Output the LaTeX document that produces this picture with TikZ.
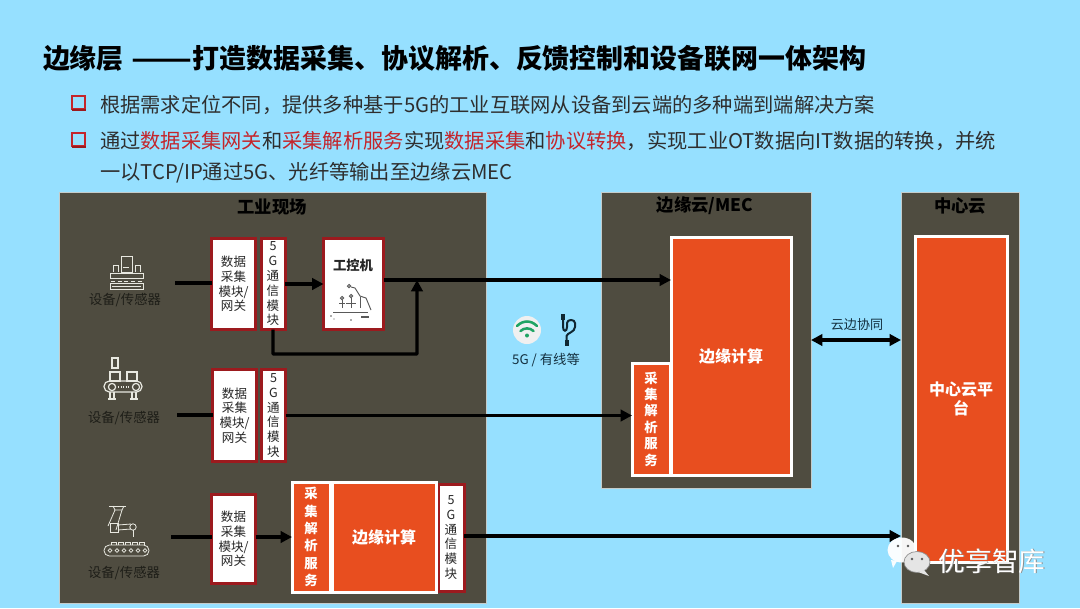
\documentclass[tikz,border=0pt]{standalone}
\usepackage{fontspec}
\usepackage{graphicx}
\setmainfont{Noto Sans CJK SC}
\usetikzlibrary{arrows.meta,calc}
\definecolor{skybg}{HTML}{96E0FF}
\definecolor{panelc}{HTML}{4F4C40}
\definecolor{panelb}{HTML}{C4CCCB}
\definecolor{redbd}{HTML}{9C1A1E}
\definecolor{orangec}{HTML}{E84E1F}
\definecolor{redtx}{HTML}{C4252B}
\definecolor{navytx}{HTML}{14303F}
\definecolor{devtx}{HTML}{1E1E18}
\definecolor{iconln}{HTML}{E8E8E0}
\definecolor{wifig}{HTML}{1FA463}
\newcommand{\red}[1]{\textcolor{redtx}{#1}}
\newcommand{\szz}[2]{\fontsize{#1}{#2}\selectfont}
\tikzset{
  x=0.75pt,y=-0.75pt,
  wh/.style 2 args={minimum width=#1*0.75pt,minimum height=#2*0.75pt},
  base/.style={inner sep=0pt,outer sep=0pt,align=center},
  panelbox/.style={base,draw=panelb,line width=0.75pt,fill=panelc},
  ptitle/.style={base,font=\szz{13}{15}\bfseries,text=black},
  modbox/.style={base,draw=redbd,line width=2.25pt,fill=white,text=black!85,font=\szz{9.4}{11.1}},
  orbox/.style={base,draw=white,line width=2.25pt,fill=orangec,text=white,font=\szz{12}{14.3}\bfseries},
  vbox/.style={base,draw=white,line width=2.25pt,fill=orangec,text=white,font=\szz{10}{13}\bfseries},
  devlabel/.style={base,font=\szz{10}{12},text=devtx},
  arr/.style={line width=2.5pt,draw=black,-{Triangle[length=8.5pt,width=8.5pt]}},
  plain/.style={line width=2.5pt,draw=black},
  dbl/.style={line width=2.5pt,draw=black,{Triangle[length=8.5pt,width=8.5pt]}-{Triangle[length=8.5pt,width=8.5pt]}},
  icon/.style={draw=iconln,line width=0.7pt},
  bodyt/.style={base,anchor=west,font=\szz{15.2}{18},text=black!82},
}
\begin{document}
\begin{tikzpicture}
\useasboundingbox (0,0) rectangle (1080,608);
\fill[skybg] (0,0) rectangle (1080,608);

% title and bullets
\node[base,anchor=west,font=\szz{20.2}{24}\bfseries,text=black] (title) at (43,58) {边缘层\hspace{6pt}\scalebox{1.32}[1]{——}打造数据采集、协议解析、反馈控制和设备联网一体架构};
\foreach \yy in {104,141}{
  \draw[redtx,line width=1.3pt] (72,\yy-8) rectangle (85,\yy+5);
  \draw[redbd,line width=1.8pt] (71.5,\yy+6) -- (86,\yy+6);
}
\node[bodyt] (l1) at (100,105) {根据需求定位不同，提供多种基于5G的工业互联网从设备到云端的多种端到端解决方案};
\node[bodyt] (l2) at (100,141) {通过\red{数据采集网关}和\red{采集解析服务}实现\red{数据采集}和\red{协议转换}，实现工业OT数据向IT数据的转换，并统};
\node[bodyt] (l3) at (100,173) {一以TCP/IP通过5G、光纤等输出至边缘云MEC};

% panels
\node[panelbox,wh={427}{411}] (pF) at (272.5,397.5) {};
\node[panelbox,wh={210}{296}] (pM) at (706,340) {};
\node[panelbox,wh={118}{411}] (pC) at (960,397.5) {};
\node[ptitle] (tF) at (272,207) {工业现场};
\node[ptitle] (tM) at (705,206) {边缘云/MEC};
\node[ptitle] (tC) at (960,206) {中心云};

% row 1
\node[modbox,wh={44}{91}] (a1) at (233.5,284) {数据\\采集\\模块/\\网关};
\node[modbox,wh={24}{91}] (g1) at (273,284) {5\\G\\通\\信\\模\\块};
\node[modbox,wh={60}{91},fill=white] (ipc) at (353.5,284) {};
\node[base,font=\szz{10}{12}\bfseries,text=black!85] (ipct) at (353,265) {工控机};
% row 2
\node[modbox,wh={44}{92}] (a2) at (234.5,415.5) {数据\\采集\\模块/\\网关};
\node[modbox,wh={24}{92}] (g2) at (273.5,415.5) {5\\G\\通\\信\\模\\块};
% row 3
\node[modbox,wh={44}{89}] (a3) at (233.5,539) {数据\\采集\\模块/\\网关};
\node[modbox,wh={26}{107}] (g3) at (451,537.5) {5\\G\\通\\信\\模\\块};
\node[vbox,wh={38}{110}] (c3) at (311,537) {采\\集\\解\\析\\服\\务};
\node[orbox,wh={104}{110}] (e3) at (384,537) {边缘计算};
% MEC
\node[vbox,wh={38}{112},font=\szz{10}{12.3}\bfseries] (cM) at (651,419) {采\\集\\解\\析\\服\\务};
\node[orbox,wh={120}{238}] (eM) at (731,356) {边缘计算};
% centre
\node[orbox,wh={92}{326}] (eC) at (961,399) {};
\node[base,font=\szz{12}{14.3}\bfseries,text=white] (eCt) at (961,399) {中心云平\\台};

% device labels
\node[devlabel] (d1) at (125,300) {设备/传感器};
\node[devlabel] (d2) at (124,418) {设备/传感器};
\node[devlabel] (d3) at (124,573) {设备/传感器};

% connector anchors
\coordinate (s1) at (175,283);
\coordinate (s2) at (177,415);
\coordinate (s3) at (171,537);
\coordinate (jn) at (417,280);
\coordinate (fb) at (417,354);
\coordinate (co) at (812,340);
\coordinate (r3) at (465,536);

% connectors
\draw[plain] (s1) -- (a1.west |- s1);
\draw[plain] (s2) -- (a2.west |- s2);
\draw[plain] (s3) -- (a3.west |- s3);
\draw[arr] (g1.east) -- (ipc.west);
\draw[arr] (ipc.east |- jn) -- (eM.west |- jn);
\draw[arr,rounded corners=0.5pt] (g1.south) |- (fb) -- (jn);
\draw[arr] (g2.east) -- (cM.west |- g2.east);
\draw[arr] (a3.east |- s3) -- (c3.west |- s3);
\draw[arr] (g3.east |- r3) -- (pC.west |- r3);
\draw[dbl] (pM.east |- co) -- (pC.west |- co);

% edge labels and link icons
\node[base,font=\szz{9.8}{12},text=navytx] (lb1) at (857,325) {云边协同};
\node[base,font=\szz{10}{12},text=navytx] (lb2) at (546,360) {5G / 有线等};

% wifi icon
\fill[black!6] (527,330) circle[radius=14];
\begin{scope}[wifig,line width=1.9pt,line cap=round]
  \draw (517,326) .. controls (523,320) and (531,320) .. (537,326);
  \draw (520.5,331) .. controls (524,327.5) and (530,327.5) .. (533.5,331);
\end{scope}
\fill[wifig] (527,335.5) circle[radius=2];
% usb icon
\begin{scope}[navytx!80!black,line width=1.5pt]
  \fill (561,314) rectangle (565,320);
  \fill (564.5,340) rectangle (568.5,346);
  \draw (563,320) -- (563,327) .. controls (563,332) and (567,332) .. (567,327) -- (567,323)
        .. controls (567,319) and (575,319) .. (575,323) -- (575,327)
        .. controls (575,332) and (567,333) .. (566.5,336) -- (566.5,340);
\end{scope}

% device 1 icon
\begin{scope}[icon]
  \draw (121,256) rectangle (132,272);
  \draw (123,267) -- (129,267);
  \draw (113,272) -- (113,265) -- (118,265) -- (118,272);
  \draw (135,272) -- (135,265) -- (140,265) -- (140,272);
  \draw (110,273) rectangle (143,278);
  \draw[densely dashed] (111,281) -- (142,281);
  \draw (110,283) rectangle (143,289);
  \draw (112,286) -- (141,286);
\end{scope}
% device 2 icon
\begin{scope}[icon,line width=0.9pt]
  \draw (111,358) -- (119,358);
  \draw (112,358) rectangle (118,368);
  \draw (110,372) rectangle (120,381);
  \draw (127,372) rectangle (137,381);
  \draw[rounded corners=4pt] (104,381) rectangle (142,392);
  \draw (112,387) circle[radius=3.6];
  \draw (136,387) circle[radius=3.6];
  \draw[densely dotted] (118,387) -- (130,387);
  \draw (110,392) -- (110,399) (114,392) -- (114,399) (108,399) -- (116,399);
  \draw (132,392) -- (132,399) (136,392) -- (136,399) (130,399) -- (138,399);
\end{scope}
% device 3 icon
\begin{scope}[icon,line width=0.6pt]
  \draw (109,506) -- (126,506);
  \draw (113,506) -- (115,510) -- (122,510) -- (124,506);
  \draw (115,510) -- (108,526) (122,510) -- (116,530);
  \draw (110,523) rectangle (118,532);
  \draw (118,525) -- (131,524) (118,530) -- (131,529);
  \draw (133,527) circle[radius=3.2];
  \draw (133,530) -- (133,537);
  \draw[rounded corners=4pt] (104,545) rectangle (149,556);
  \foreach \xx in {110,117,124,131,138,145} \draw (\xx,550.5) circle[radius=1.9];
  \foreach \xx in {111,118,125,132,139} \draw (\xx,545) -- (\xx,542) -- (\xx+5,542) -- (\xx+5,545);
\end{scope}
% ipc icon
\begin{scope}[draw=black!65,line width=0.7pt]
  \draw (349,286) circle[radius=1.6];
  \draw (351,287) -- (355,288) -- (360,296) -- (366,298) -- (371,310);
  \draw (342,298) circle[radius=1.6];
  \draw (342,300) -- (342,308) (339,303) -- (345,303);
  \draw (351,296) circle[radius=1.6];
  \draw (351,298) -- (351,308) (346,303) -- (356,303);
  \draw (360,297) -- (360,308);
  \draw (333,312) -- (368,312);
  \draw[line width=1pt] (361,317) -- (369,317);
  \fill[black!65] (331,316) circle[radius=0.9] (334,319) circle[radius=0.7] (351,320) circle[radius=0.9];
\end{scope}

% watermark
\fill[white,opacity=0.95] (902,550) ellipse[x radius=14.5,y radius=12.5];
\fill[white,opacity=0.95] (891,560) -- (897,561) -- (893,568) -- cycle;
\fill[black!10,draw=black!45,line width=0.5pt] (917,562) ellipse[x radius=13,y radius=10.5];
\fill[black!10] (924,570) -- (929,576) -- (918,572) -- cycle;
\fill[black!65] (898,546) circle[radius=1.4] (908,546) circle[radius=1.4] (912,559) circle[radius=1.4] (922,559) circle[radius=1.4];
\node[base,font=\szz{20}{24},text=black!45] (wm2) at (992.7,561.7) {优享智库};
\node[base,font=\szz{20}{24},text=white] (wm) at (992,561) {优享智库};
\end{tikzpicture}
\end{document}
